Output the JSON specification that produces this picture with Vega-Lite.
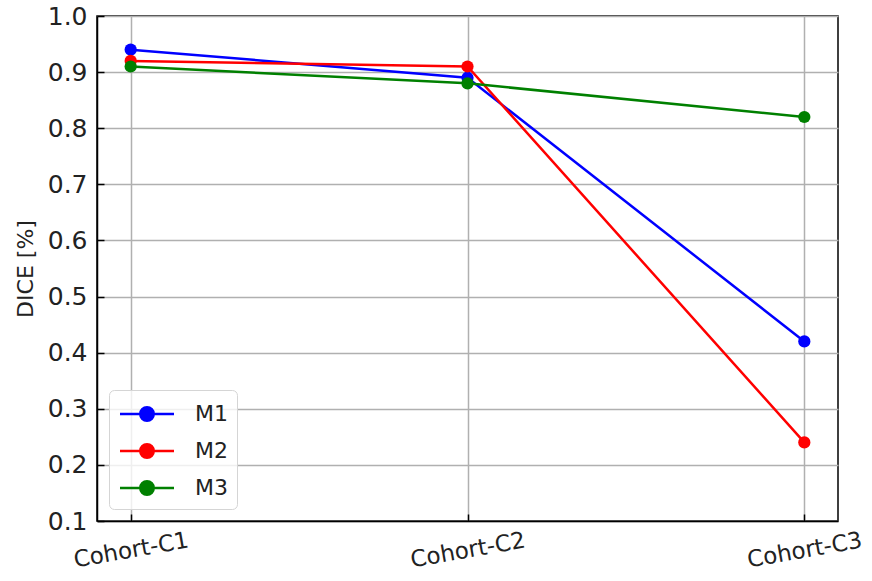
{
  "$schema": "https://vega.github.io/schema/vega-lite/v6.json",
  "width": 741,
  "height": 505,
  "autosize": "none",
  "padding": {"left": 97, "top": 16, "right": 34, "bottom": 60},
  "background": "white",
  "config": {
    "font": "DejaVu Sans",
    "view": {"stroke": "black", "strokeWidth": 1.5},
    "axis": {
      "labelFont": "DejaVu Sans",
      "titleFont": "DejaVu Sans",
      "labelColor": "#222",
      "titleColor": "#222",
      "domainColor": "black",
      "domainWidth": 1.5,
      "tickColor": "black",
      "tickWidth": 1.5,
      "tickSize": -7,
      "grid": true,
      "gridColor": "#b0b0b0",
      "gridWidth": 1.5,
      "gridOpacity": 1
    }
  },
  "data": {
    "values": [
      {"cohort": "Cohort-C1", "model": "M1", "dice": 0.94},
      {"cohort": "Cohort-C2", "model": "M1", "dice": 0.89},
      {"cohort": "Cohort-C3", "model": "M1", "dice": 0.42},
      {"cohort": "Cohort-C1", "model": "M2", "dice": 0.92},
      {"cohort": "Cohort-C2", "model": "M2", "dice": 0.91},
      {"cohort": "Cohort-C3", "model": "M2", "dice": 0.24},
      {"cohort": "Cohort-C1", "model": "M3", "dice": 0.91},
      {"cohort": "Cohort-C2", "model": "M3", "dice": 0.88},
      {"cohort": "Cohort-C3", "model": "M3", "dice": 0.82}
    ]
  },
  "encoding": {
    "x": {
      "field": "cohort",
      "type": "ordinal",
      "scale": {"type": "point", "padding": 0.1},
      "axis": {
        "title": null,
        "grid": true,
        "labelAngle": -10,
        "labelFontSize": 23,
        "labelPadding": 36,
        "labelAlign": "center",
        "labelBaseline": "middle"
      }
    },
    "y": {
      "field": "dice",
      "type": "quantitative",
      "scale": {"domain": [0.1, 1.0], "nice": false, "zero": false},
      "axis": {
        "title": "DICE [%]",
        "values": [0.1, 0.2, 0.3, 0.4, 0.5, 0.6, 0.7, 0.8, 0.9, 1.0],
        "format": ".1f",
        "labelFontSize": 25,
        "labelPadding": 17,
        "titleFontSize": 22,
        "titleFontWeight": "normal",
        "titlePadding": 10
      }
    },
    "color": {
      "field": "model",
      "type": "nominal",
      "scale": {"domain": ["M1", "M2", "M3"], "range": ["#0000ff", "#ff0000", "#008000"]},
      "legend": {
        "title": null,
        "orient": "bottom-left",
        "offset": 12,
        "padding": 9,
        "cornerRadius": 5,
        "strokeColor": "#d5d5d5",
        "fillColor": "rgba(255,255,255,0.8)",
        "labelFontSize": 22,
        "labelColor": "#222",
        "labelOffset": 33,
        "rowPadding": 10,
        "symbolOffset": 14,
        "symbolType": "M-2,0H2M0.5,0A0.5,0.5,0,1,1,-0.5,0A0.5,0.5,0,1,1,0.5,0Z",
        "symbolSize": 729,
        "symbolStrokeWidth": 2.5,
        "symbolOpacity": 1
      }
    }
  },
  "layer": [
    {"mark": {"type": "line", "strokeWidth": 2.5}},
    {"mark": {"type": "circle", "size": 150, "opacity": 1}}
  ]
}
